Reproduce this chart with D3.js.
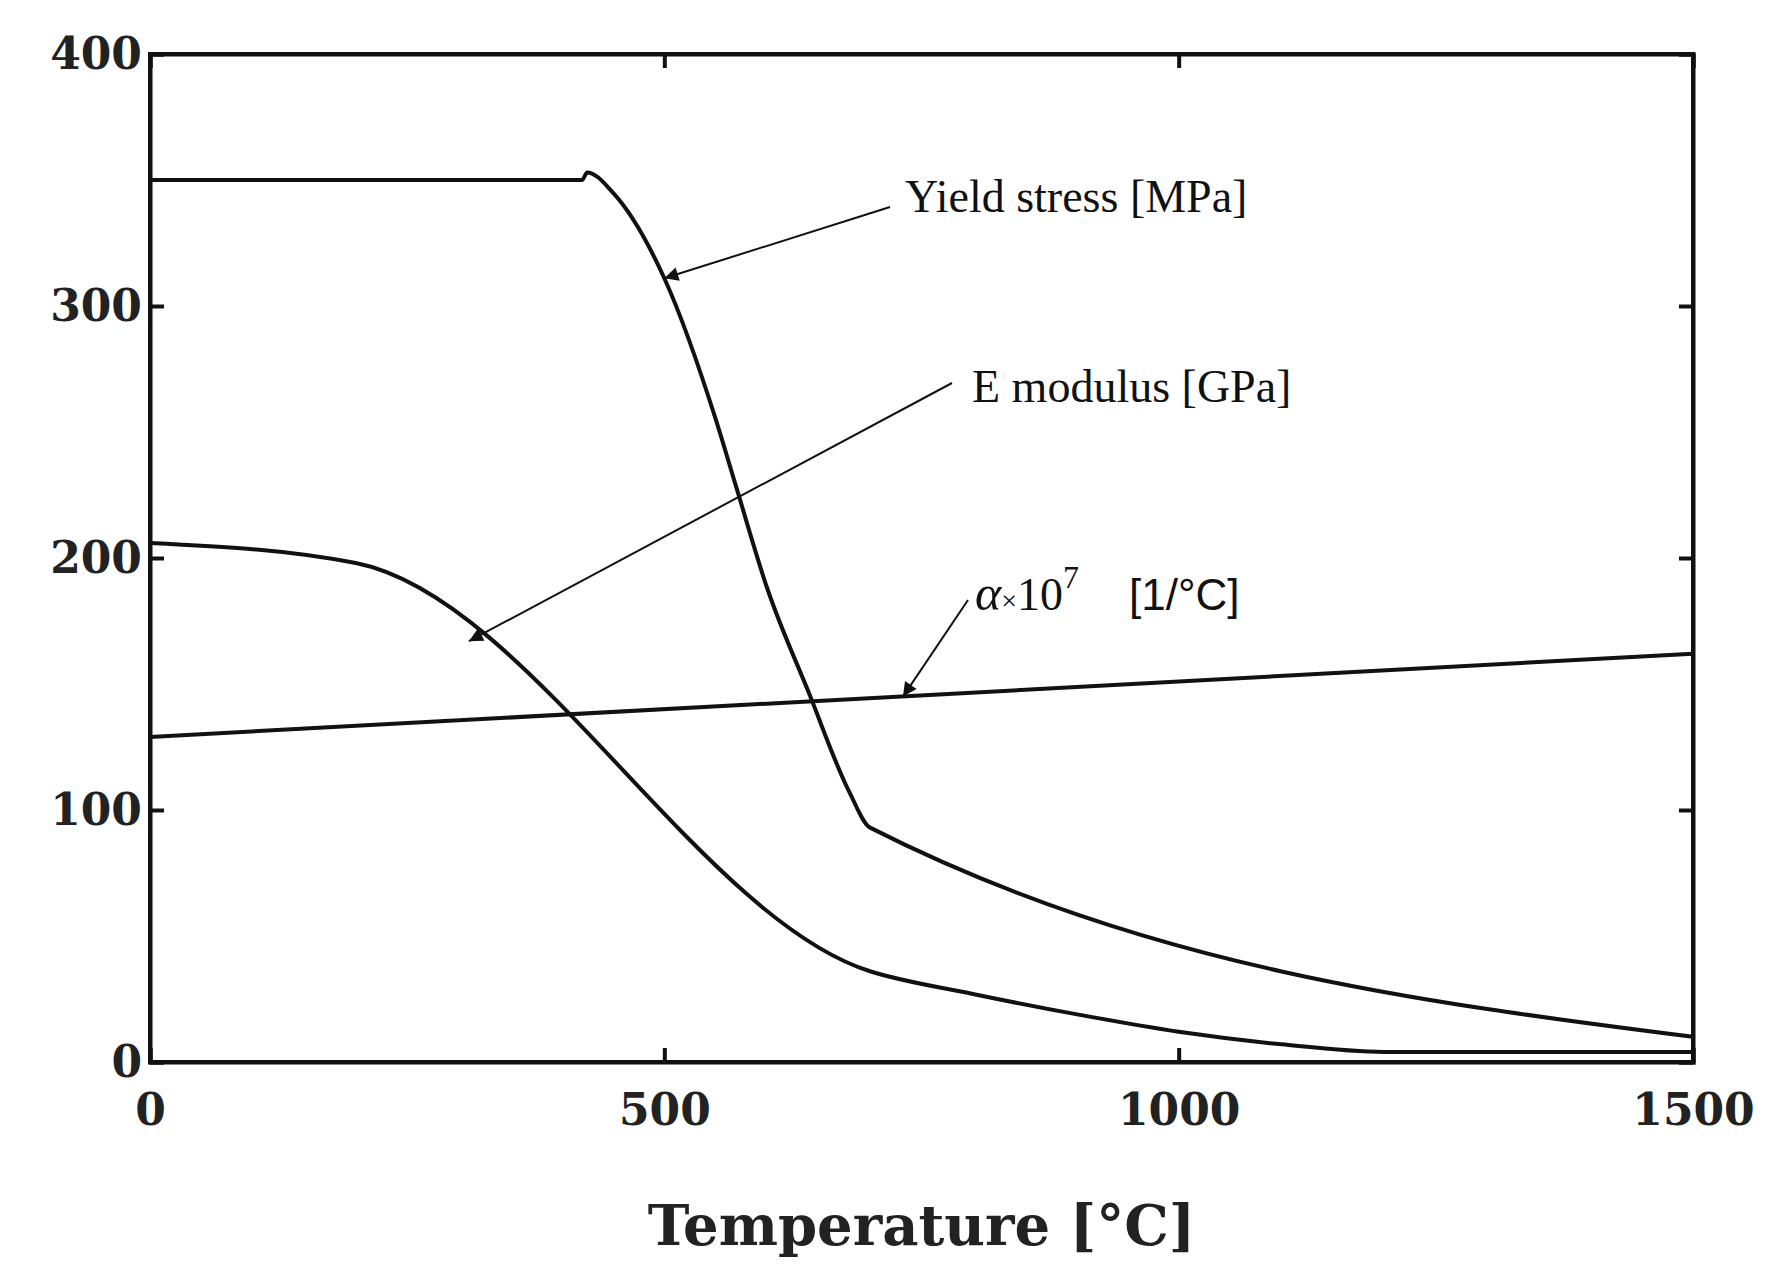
<!DOCTYPE html>
<html>
<head>
<meta charset="UTF-8">
<script src="https://d3js.org/d3.v7.min.js"></script>
<style>
  body { margin: 0; background: #fff; }
  .tick text { font: bold 44px "DejaVu Serif", "Liberation Serif", serif; fill: #222; }
  .ann { font: 46px "Liberation Serif", serif; fill: #111; }
</style>
</head>
<body>
<svg width="1775" height="1282"></svg>
<script>
// temperatures / values
const yieldT = [0, 420, 425, 450, 500, 550, 570, 600, 640, 680, 700, 1500];
const yieldV = [350, 350, 353, 345, 311, 255, 228, 188, 147, 107, 93, 10];
const eT = [0, 200, 700, 800, 900, 1000, 1100, 1200, 1500];
const eV = [206, 198, 36, 27, 19, 12, 7, 4, 4];
const alphaT = [0, 1500];
const alphaV = [129, 162];
const xTicks = [0, 500, 1000, 1500];
const yTicks = [0, 100, 200, 300, 400];

const svg = d3.select("svg");
const mLeft = 150, mRight = 1693, mTop = 54, mBottom = 1062;
const x = d3.scaleLinear().domain([0, 1500]).range([mLeft, mRight]);
const y = d3.scaleLinear().domain([0, 400]).range([mBottom, mTop]);

// frame and inward ticks
svg.append("g").attr("transform", `translate(0,${mBottom})`)
  .call(d3.axisBottom(x).tickValues(xTicks).tickSize(-14).tickPadding(32).tickFormat(d3.format("d")));
svg.append("g").attr("transform", `translate(0,${mTop})`)
  .call(d3.axisTop(x).tickValues(xTicks).tickSize(-14).tickFormat(""));
svg.append("g").attr("transform", `translate(${mLeft},0)`)
  .call(d3.axisLeft(y).tickValues(yTicks).tickSize(-14).tickPadding(8).tickFormat(d3.format("d")));
svg.append("g").attr("transform", `translate(${mRight},0)`)
  .call(d3.axisRight(y).tickValues(yTicks).tickSize(-14).tickFormat(""));
svg.selectAll(".domain, .tick line").attr("stroke", "#111").attr("stroke-width", 4);
svg.append("rect").attr("x", mLeft).attr("y", mTop).attr("width", mRight - mLeft).attr("height", mBottom - mTop)
  .attr("fill", "none").attr("stroke", "#111").attr("stroke-width", 4);

const line = (ts, vs, curve) => d3.line().x((d, i) => x(ts[i])).y(d => y(d)).curve(curve)(vs);
[[yieldT, yieldV, d3.curveMonotoneX], [eT, eV, d3.curveMonotoneX], [alphaT, alphaV, d3.curveLinear]]
  .forEach(([t, v, c]) => svg.append("path").attr("d", line(t, v, c))
    .attr("fill", "none").attr("stroke", "#111").attr("stroke-width", 4));

// axis title
svg.append("text").attr("x", (mLeft + mRight) / 2).attr("y", 1245).attr("text-anchor", "middle")
  .style("font", "bold 56px 'DejaVu Serif', serif").attr("fill", "#222").text("Temperature [°C]");

// annotations with arrows
svg.append("defs").append("marker").attr("id", "arr").attr("viewBox", "0 0 10 10")
  .attr("refX", 10).attr("refY", 5).attr("orient", "auto")
  .attr("markerUnits", "userSpaceOnUse").attr("markerWidth", 22).attr("markerHeight", 14)
  .append("path").attr("d", "M0,0 L10,5 L0,10 z").attr("fill", "#111");
const arrow = (x1, y1, t, v) => svg.append("line").attr("x1", x1).attr("y1", y1)
  .attr("x2", x(t)).attr("y2", y(v)).attr("stroke", "#111").attr("stroke-width", 2).attr("marker-end", "url(#arr)");
arrow(890, 207, 500, 311);
arrow(952, 383, 310, 167);
arrow(968, 600, 732, 145);

svg.append("text").attr("class", "ann").attr("x", 905).attr("y", 212).text("Yield stress [MPa]");
svg.append("text").attr("class", "ann").attr("x", 972).attr("y", 402).text("E modulus [GPa]");
const a = svg.append("text").attr("class", "ann").attr("x", 975).attr("y", 610);
a.append("tspan").style("font-style", "italic").style("font-size", "50px").text("α");
a.append("tspan").style("font-size", "28px").text("×");
a.append("tspan").text("10");
a.append("tspan").attr("dy", -22).style("font-size", "32px").text("7");
a.append("tspan").attr("dy", 22).attr("dx", 50).style("font-family", "'Liberation Sans', sans-serif").style("font-size", "44px").text("[1/°C]");
</script>
</body>
</html>
